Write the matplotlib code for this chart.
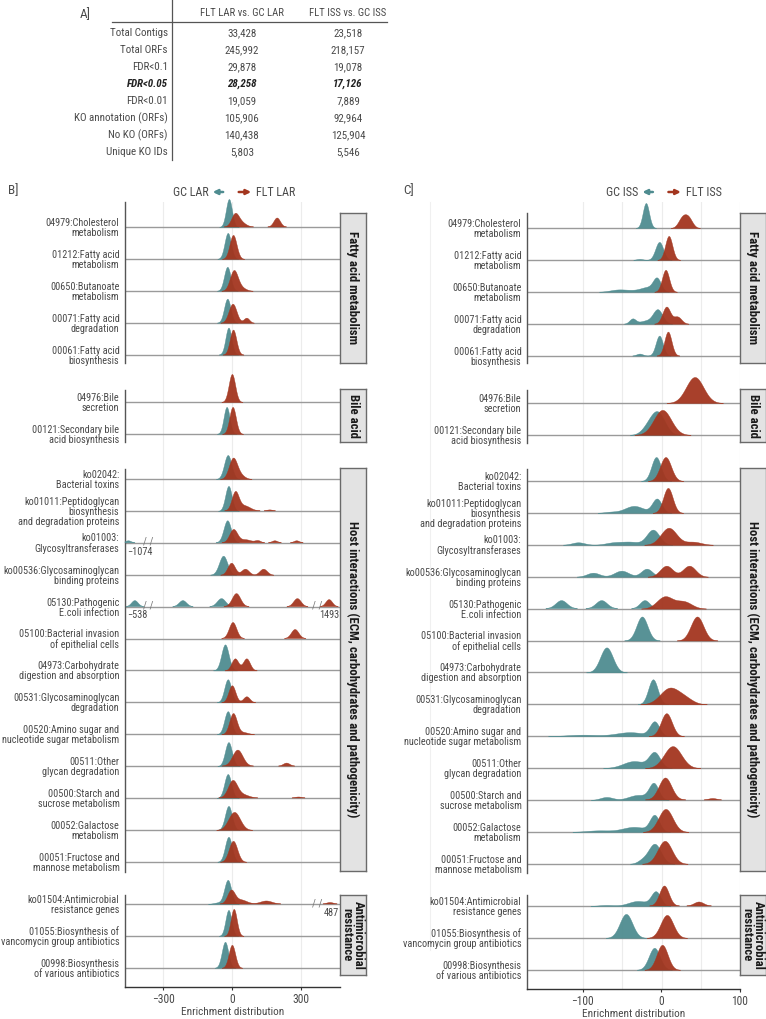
import numpy as np
import matplotlib
matplotlib.use("Agg")
import matplotlib.pyplot as plt
from matplotlib import font_manager as fm
from matplotlib.patches import FancyArrowPatch
from matplotlib.lines import Line2D

# ------------------------------------------------------------------ data
TABLE_HEADERS = ["FLT LAR vs. GC LAR", "FLT ISS vs. GC ISS"]
TABLE_ROWS = ["Total Contigs", "Total ORFs", "FDR<0.1", "FDR<0.05", "FDR<0.01",
              "KO annotation (ORFs)", "No KO (ORFs)", "Unique KO IDs"]
TABLE_LAR = ["33,428", "245,992", "29,878", "28,258", "19,059", "105,906", "140,438", "5,803"]
TABLE_ISS = ["23,518", "218,157", "19,078", "17,126", "7,889", "92,964", "125,904", "5,546"]
BOLD_ROW = "FDR<0.05"

GROUPS = ["Fatty acid metabolism", "Bile acid",
          "Host interactions (ECM, carbohydrates and pathogenicity)",
          "Antimicrobial\nresistance"]

PATHWAYS = [
    "04979:Cholesterol\nmetabolism",
    "01212:Fatty acid\nmetabolism",
    "00650:Butanoate\nmetabolism",
    "00071:Fatty acid\ndegradation",
    "00061:Fatty acid\nbiosynthesis",
    "04976:Bile\nsecretion",
    "00121:Secondary bile\nacid biosynthesis",
    "ko02042:\nBacterial toxins",
    "ko01011:Peptidoglycan\nbiosynthesis\nand degradation proteins",
    "ko01003:\nGlycosyltransferases",
    "ko00536:Glycosaminoglycan\nbinding proteins",
    "05130:Pathogenic\nE.coli infection",
    "05100:Bacterial invasion\nof epithelial cells",
    "04973:Carbohydrate\ndigestion and absorption",
    "00531:Glycosaminoglycan\ndegradation",
    "00520:Amino sugar and\nnucleotide sugar metabolism",
    "00511:Other\nglycan degradation",
    "00500:Starch and\nsucrose metabolism",
    "00052:Galactose\nmetabolism",
    "00051:Fructose and\nmannose metabolism",
    "ko01504:Antimicrobial\nresistance genes",
    "01055:Biosynthesis of\nvancomycin group antibiotics",
    "00998:Biosynthesis\nof various antibiotics",
]
PATHWAY_GROUP = [0] * 5 + [1] * 2 + [2] * 13 + [3] * 3

# density peaks: (centre, spread, relative height)
LAR_GC = [
    [(-13, 13, 28)], [(-18, 14, 26)], [(-20, 14, 24)], [(-20, 14, 24)], [(-15, 13, 27)],
    [], [(-23, 13, 27)],
    [(-18, 16, 24)], [(-15, 14, 25)], [(-18, 16, 22)], [(-38, 18, 19)],
    [(-213, 16, 6), (-45, 18, 8)], [], [(-30, 16, 26)], [(-18, 15, 23)],
    [(-18, 15, 23)], [(-15, 15, 24)], [(-18, 15, 24)], [(-15, 15, 24)], [(-15, 15, 25)],
    [(-18, 15, 24), (-60, 20, 1.5)], [(-15, 13, 26)], [(-30, 14, 26)],
]
LAR_FLT = [
    [(15, 16, 12), (42, 20, 4), (197, 14, 9)], [(5, 15, 24)], [(8, 17, 20), (40, 20, 3)],
    [(3, 17, 19), (63, 12, 5)], [(5, 14, 25)],
    [(0, 14, 28)], [(3, 14, 27)],
    [(5, 18, 21), (40, 18, 3)], [(16, 15, 18), (55, 25, 5), (165, 12, 1)],
    [(8, 17, 13), (60, 25, 3), (114, 12, 2), (187, 12, 2), (282, 12, 2)],
    [(-3, 16, 12), (57, 16, 6), (136, 16, 6)],
    [(20, 18, 13), (285, 16, 8)], [(5, 16, 16), (275, 16, 9)],
    [(13, 15, 12), (63, 15, 12)], [(0, 15, 17), (63, 14, 6)],
    [(5, 16, 21), (50, 20, 2)], [(26, 22, 16), (238, 14, 3)],
    [(5, 20, 17), (50, 25, 3), (290, 14, 1)], [(10, 25, 18)], [(5, 18, 21)],
    [(-2, 16, 13), (40, 25, 4), (150, 25, 3)], [(8, 13, 27)], [(0, 14, 23)],
]
# values beyond the axis, drawn squeezed at the edge: (pathway, group, value, shown at, spread, height)
LAR_OUTLIERS = [
    (9, "GC", "-1074", -450, 12, 2),
    (11, "GC", "-538", -422, 14, 6),
    (11, "FLT", "1493", 423, 14, 7),
    (20, "FLT", "487", 427, 14, 1.5),
]

ISS_GC = [
    [(-20, 4, 25)], [(-3, 5, 18), (-28, 4, 1)],
    [(-6, 5, 13), (-18, 8, 4), (-56, 10, 2), (-35, 12, 1.5)],
    [(-5, 6, 14), (-37, 4, 5), (-20, 8, 3)], [(-3, 4.5, 20), (-28, 4, 2)],
    [], [(-5, 9, 22), (-18, 8, 6)],
    [(-7, 6, 24)], [(-6, 6, 14), (-35, 12, 7), (-65, 8, 1)],
    [(-11, 8, 15), (-40, 12, 3), (-106, 8, 2.5), (-62, 10, 2)],
    [(-87, 8, 4), (-51, 9, 6), (-19, 7, 8)],
    [(-127, 7, 8), (-76, 7, 8), (-21, 6, 8)], [(-25, 7, 24)], [(-70, 8, 25)],
    [(-11, 6, 25)], [(-9, 6, 14), (-40, 18, 4), (-100, 20, 1.5)],
    [(-9, 7, 15), (-35, 14, 7)], [(-10, 6, 16), (-30, 12, 5), (-70, 8, 3)],
    [(-9, 6, 16), (-35, 15, 5), (-80, 15, 1.5)], [(-9, 8, 20), (-25, 6, 3)],
    [(-7, 6, 14), (-30, 12, 5), (-70, 10, 1)], [(-45, 8, 24)], [(-9, 7, 22)],
]
ISS_FLT = [
    [(26, 5, 9.5), (34, 5, 9.5)], [(9, 4.5, 24)], [(5, 4.5, 22)], [(6, 5, 17), (20, 5, 7)],
    [(8, 4.5, 24)],
    [(42, 11, 26)], [(1, 11, 25)],
    [(5, 7, 24)], [(8, 6, 25)], [(9, 10, 17), (40, 10, 3)], [(6, 8, 11), (35, 8, 11)],
    [(4, 10, 12), (28, 10, 7)], [(45, 8, 24)], [], [(10, 12, 16), (30, 10, 5)],
    [(6, 7, 23)], [(14, 11, 22)], [(5, 8, 22), (65, 5, 1.5)], [(5, 9, 23)], [(4, 9, 23)],
    [(4, 6, 20), (48, 6, 4)], [(7, 8, 23)], [(1, 7, 25)],
]

LAR_TICKS = [-300, 0, 300]
ISS_TICKS = [-100, 0, 100]
ISS_MINOR = [-50, 50]

# ------------------------------------------------------------------ style
W, H = 766, 1019
TEAL = "#4F8C90"
RED = "#A3361F"
GREY_TXT = "#4a4a4a"

avail = {f.name for f in fm.fontManager.ttflist}
NARROW = None
for cand in ["Liberation Sans Narrow", "Roboto Condensed", "Open Sans Condensed"]:
    if cand in avail:
        NARROW = cand
        break
BASEFONT = [NARROW, "DejaVu Sans"] if NARROW else ["Liberation Sans", "DejaVu Sans"]
SZ = 7.7 if NARROW else 6.6
LBL = SZ - 0.35
plt.rcParams["font.family"] = BASEFONT

fig = plt.figure(figsize=(W / 100, H / 100), dpi=100)


def fx(px):
    return px / W


def fy(py):
    return 1 - py / H


# ------------------------------------------------------------------ panel A (table)
fig.text(fx(80), fy(15), "A]", fontsize=SZ + 1.8, color=GREY_TXT, va="center")
col_x = [242, 348]
for cx, hdr in zip(col_x, TABLE_HEADERS):
    fig.text(fx(cx), fy(13), hdr, fontsize=SZ, color=GREY_TXT, ha="center", va="center")
fig.add_artist(Line2D([fx(172), fx(172)], [fy(0), fy(160)], color="#555555", lw=0.9))
fig.add_artist(Line2D([fx(112), fx(387)], [fy(22), fy(22)], color="#555555", lw=0.9))
for i, (rl, a, b) in enumerate(zip(TABLE_ROWS, TABLE_LAR, TABLE_ISS)):
    yy = fy(33 + i * 17)
    kw = dict(fontsize=SZ + 0.2, color=GREY_TXT, va="center")
    if rl == BOLD_ROW:
        kw.update(fontweight="bold", fontstyle="italic", color="#222222")
    fig.text(fx(168), yy, rl, ha="right", **kw)
    fig.text(fx(col_x[0]), yy, a, ha="center", **kw)
    fig.text(fx(col_x[1]), yy, b, ha="center", **kw)

# ------------------------------------------------------------------ ridge panels
ROW_PX = 31.9
FACETS = [  # top, bottom, first baseline (pixels)  for panel B / C
    [(202, 363, 227), (390, 442, 402), (469, 872, 479), (895, 987, 904)],
    [(213, 363, 228), (390, 443, 403), (469, 873, 481), (895, 989, 906)],
]
STRIPS = [(213, 363), (389, 442), (468, 871), (895, 975)]


def density(xs, peaks):
    y = np.zeros_like(xs)
    for c, s, h in peaks:
        y += h * np.exp(-0.5 * ((xs - c) / s) ** 2)
    return y / ROW_PX


def draw_panel(pi, x0, x1, xlim, gc, flt, outliers, ticks, minor, tag, gc_lbl, flt_lbl,
               breaks=None):
    facets = FACETS[pi]
    gtop = 202
    gbot = facets[-1][1]
    bg = fig.add_axes([fx(x0), fy(gbot), (x1 - x0) / W, (gbot - gtop) / H], zorder=0)
    bg.set_xlim(*xlim)
    for v in list(ticks) + list(minor):
        bg.axvline(v, color="#ececec", lw=0.8)
    bg.axis("off")

    xs = np.linspace(xlim[0], xlim[1], 1500)
    idx_all = np.arange(len(PATHWAYS))
    axes = []
    for gi, (top, bot, first) in enumerate(facets):
        rows = [i for i in idx_all if PATHWAY_GROUP[i] == gi]
        n = len(rows)
        last = first + (n - 1) * ROW_PX
        ax = fig.add_axes([fx(x0), fy(bot), (x1 - x0) / W, (bot - top) / H], zorder=2)
        ax.patch.set_alpha(0)
        ax.set_xlim(*xlim)
        ax.set_ylim(-(bot - last) / ROW_PX, (n - 1) + (first - top) / ROW_PX)
        ys = [n - 1 - k for k in range(n)]
        ax.set_yticks(ys)
        ax.set_yticklabels([PATHWAYS[i] for i in rows], fontsize=LBL, color=GREY_TXT,
                           linespacing=1.0, multialignment="right")
        ax.tick_params(axis="y", length=0, pad=4)
        for sp in ["top", "right"]:
            ax.spines[sp].set_visible(False)
        ax.spines["left"].set_color("#555555")
        ax.spines["left"].set_linewidth(1.0)
        if gi < len(facets) - 1:
            ax.spines["bottom"].set_visible(False)
            ax.set_xticks([])
        else:
            ax.spines["bottom"].set_color("#333333")
            ax.spines["bottom"].set_linewidth(1.0)
            ax.set_xticks(ticks)
            ax.set_xticklabels([("\u2212" + str(-t)) if t < 0 else str(t) for t in ticks],
                               fontsize=SZ + 0.6, color=GREY_TXT)
            ax.tick_params(axis="x", length=2, color="#333333", pad=2)
            ax.set_xlabel("Enrichment distribution", fontsize=SZ + 0.4, color=GREY_TXT,
                          labelpad=1)
        for k, i in enumerate(rows):
            base = ys[k]
            ax.axhline(base, color="#9a9a9a", lw=1.0, zorder=1)
            for grp, peaks, col in (("GC", gc[i], TEAL), ("FLT", flt[i], RED)):
                pk = list(peaks)
                for (oi, og, lab, shown, s, h) in outliers:
                    if oi == i and og == grp:
                        pk.append((shown, s, h))
                if not pk:
                    continue
                d = density(xs, pk)
                mask = d > 0.004
                ax.fill_between(xs, base, base + d, where=mask, color=col, alpha=0.95,
                                lw=0.3, edgecolor=col, zorder=3 if grp == "GC" else 4,
                                clip_on=False)
            for (oi, og, lab, shown, s, h) in outliers:
                if oi == i:
                    neg = shown < 0
                    lx = xlim[0] + 0.012 * (xlim[1] - xlim[0]) if neg else xlim[1] - 0.003 * (xlim[1] - xlim[0])
                    ax.text(lx, base - 0.12, lab.replace("-", "\u2212"), fontsize=SZ - 0.3,
                            color=GREY_TXT, ha="left" if neg else "right", va="top")
                    bx = breaks[0] if neg else breaks[1]
                    ax.text(bx, base + 0.03, "/ /", fontsize=SZ, color="#777777",
                            ha="center", va="center", rotation=0)
        axes.append(ax)

    # strips
    sx0 = x1
    sx1 = x1 + 26
    for gi, (st, sb) in enumerate(STRIPS):
        sax = fig.add_axes([fx(sx0), fy(sb), (sx1 - sx0) / W, (sb - st) / H], zorder=3)
        sax.set_xticks([])
        sax.set_yticks([])
        sax.set_facecolor("#e3e3e3")
        for sp in sax.spines.values():
            sp.set_color("#6a6a6a")
            sp.set_linewidth(1.0)
        sax.text(0.5, 0.5, GROUPS[gi], rotation=270, ha="center", va="center",
                 fontsize=SZ + 1.5, fontweight="bold", color="#1a1a1a",
                 linespacing=0.85, transform=sax.transAxes)

    # panel tag and direction legend
    fig.text(fx(8 if pi == 0 else 403), fy(191), tag, fontsize=SZ + 1.8,
             color=GREY_TXT, va="center")
    midpx = x0 + (0 - xlim[0]) / (xlim[1] - xlim[0]) * (x1 - x0)
    fig.text(fx(midpx - 23), fy(192), gc_lbl, fontsize=SZ + 1.0, color=GREY_TXT,
             ha="right", va="center")
    fig.text(fx(midpx + 24), fy(192), flt_lbl, fontsize=SZ + 1.0, color=GREY_TXT,
             ha="left", va="center")
    fig.add_artist(FancyArrowPatch((fx(midpx - 6), fy(192)), (fx(midpx - 22), fy(192)),
                                   transform=fig.transFigure, arrowstyle="-|>",
                                   mutation_scale=7, color=TEAL, lw=1.8))
    fig.add_artist(FancyArrowPatch((fx(midpx + 4), fy(192)), (fx(midpx + 22), fy(192)),
                                   transform=fig.transFigure, arrowstyle="-|>",
                                   mutation_scale=7, color=RED, lw=1.8))


draw_panel(0, 125, 340, (-465, 470), LAR_GC, LAR_FLT, LAR_OUTLIERS, LAR_TICKS, [],
           "B]", "GC LAR", "FLT LAR", breaks=(-365, 370))
draw_panel(1, 527, 740, (-171, 99.5), ISS_GC, ISS_FLT, [], ISS_TICKS, ISS_MINOR,
           "C]", "GC ISS", "FLT ISS")

# faint leftover grid line seen left of panel C
fig.add_artist(Line2D([fx(430), fx(430)], [fy(202), fy(950)], color="#f0f0f0", lw=0.8,
                      zorder=0))

fig.savefig("out.png", dpi=100, facecolor="white")
